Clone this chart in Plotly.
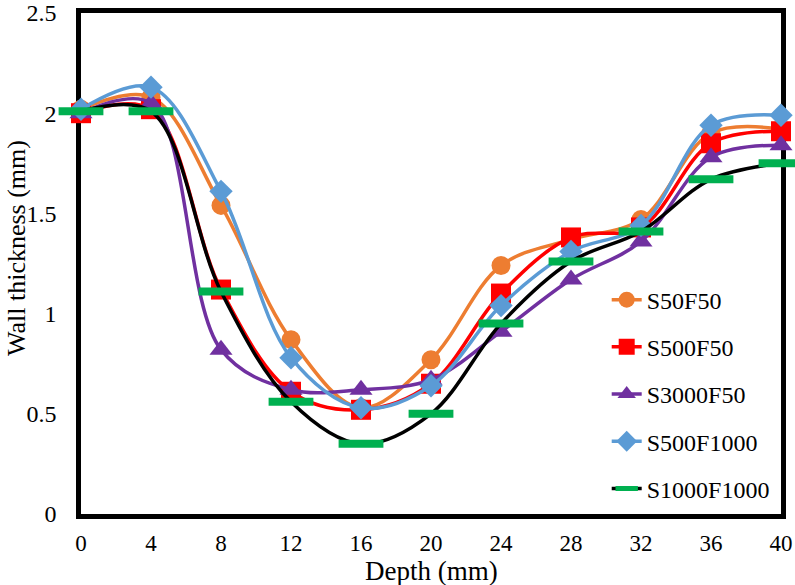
import plotly.graph_objects as go

depth = [0, 4, 8, 12, 16, 20, 24, 28, 32, 36, 40]

s50f50 = [2.02, 2.08, 1.54, 0.87, 0.53, 0.77, 1.24, 1.37, 1.47, 1.90, 1.92]
s500f50 = [2.00, 2.02, 1.12, 0.61, 0.52, 0.65, 1.10, 1.38, 1.43, 1.85, 1.91]
s3000f50 = [2.00, 2.05, 0.82, 0.62, 0.62, 0.67, 0.91, 1.17, 1.36, 1.78, 1.84]
s500f1000 = [2.02, 2.13, 1.61, 0.78, 0.53, 0.64, 1.04, 1.31, 1.44, 1.94, 1.99]
s1000f1000 = [2.01, 2.01, 1.11, 0.56, 0.35, 0.50, 0.95, 1.26, 1.41, 1.67, 1.75]

names = ["S50F50", "S500F50", "S3000F50", "S500F1000", "S1000F1000"]
x_ticks = [0, 4, 8, 12, 16, 20, 24, 28, 32, 36, 40]
y_ticks = [0, 0.5, 1, 1.5, 2, 2.5]

series = [s50f50, s500f50, s3000f50, s500f1000, s1000f1000]
line_colors = ["#ED7D31", "#FF0000", "#7030A0", "#5B9BD5", "#000000"]
marker_styles = [
    dict(symbol="circle", size=19, color="#ED7D31"),
    dict(symbol="square", size=20, color="#FF0000"),
    dict(symbol="triangle-up", size=20, color="#7030A0"),
    dict(symbol="diamond", size=18, color="#5B9BD5"),
    dict(symbol="line-ew", size=32, color="#00B050",
         line=dict(color="#00B050", width=8)),
]

FONT = "Liberation Serif"

fig = go.Figure()
for i, (nm, ys) in enumerate(zip(names, series)):
    fig.add_trace(go.Scatter(
        x=depth, y=ys, name=nm, mode="lines+markers",
        line=dict(color=line_colors[i], width=3.5, shape="spline", smoothing=1.0),
        marker=marker_styles[i],
        cliponaxis=False,
        legendgroup=nm,
    ))

axis_common = dict(
    showline=True, mirror=True, linecolor="black", linewidth=4.5,
    showgrid=False, zeroline=False, ticks="", automargin=False,
    layer="below traces",
)

fig.update_layout(
    width=795, height=585,
    margin=dict(l=81, r=14, t=13, b=71),
    paper_bgcolor="white", plot_bgcolor="white",
    font=dict(family=FONT, color="black"),
    showlegend=True,
    legend=dict(
        x=0.751, y=0.472, xanchor="left", yanchor="top",
        font=dict(family=FONT, size=24, color="black"),
        bgcolor="rgba(0,0,0,0)", tracegroupgap=13,
        traceorder="grouped",
    ),
    xaxis=dict(range=[0, 40], tickvals=x_ticks, ticklabelstandoff=5,
               tickfont=dict(family=FONT, size=23, color="black"), **axis_common),
    yaxis=dict(range=[0, 2.5], tickvals=y_ticks, ticklabelstandoff=15,
               tickfont=dict(family=FONT, size=24, color="black"), **axis_common),
    annotations=[
        dict(text="Depth (mm)", xref="paper", yref="paper", x=0.5, y=-0.113,
             xanchor="center", yanchor="middle", showarrow=False,
             font=dict(family=FONT, size=27, color="black")),
        dict(text="Wall thickness (mm)", xref="paper", yref="paper",
             x=(17 - 81) / 700, y=(514 - 248) / 501,
             xanchor="center", yanchor="middle", showarrow=False, textangle=-90,
             font=dict(family=FONT, size=26, color="black")),
    ],
)

fig.write_html("out.html", config={"displayModeBar": False},
               post_script="document.body.style.margin='0';")
